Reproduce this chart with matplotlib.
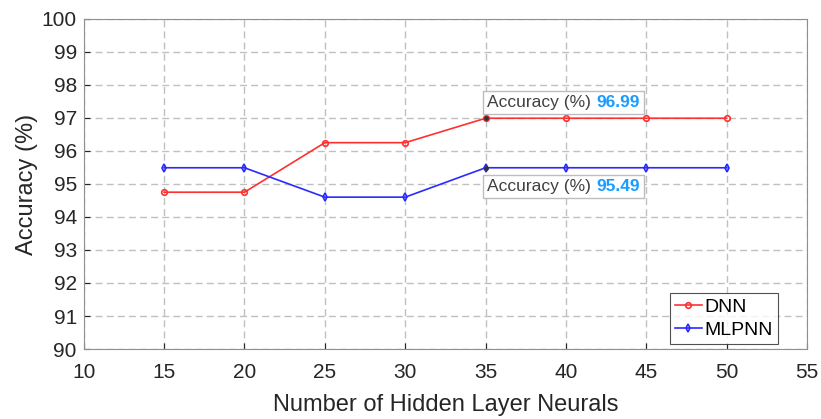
import matplotlib.pyplot as plt
from matplotlib.patches import Rectangle
from matplotlib.transforms import Bbox

neurons = [15, 20, 25, 30, 35, 40, 45, 50]
dnn_acc = [94.75, 94.75, 96.25, 96.25, 96.99, 96.99, 96.99, 96.99]
mlpnn_acc = [95.49, 95.49, 94.6, 94.6, 95.49, 95.49, 95.49, 95.49]

plt.rcParams['font.family'] = ['Liberation Sans', 'DejaVu Sans']

fig = plt.figure(figsize=(8.21, 4.19), dpi=100)
ax = fig.add_axes([0.102, 0.167, 0.881, 0.788])

ax.plot(neurons, dnn_acc, color='#ff3030', marker='o', markersize=4,
        markerfacecolor='none', markeredgewidth=1.2, linewidth=1.2, label='DNN')
ax.plot(neurons, mlpnn_acc, color='#2a2aff', marker='d', markersize=4,
        markerfacecolor='none', markeredgewidth=1.2, linewidth=1.2, label='MLPNN')

ax.set_xlim(10, 55)
ax.set_ylim(90, 100)
ax.set_xticks(range(10, 56, 5))
ax.set_yticks(range(90, 101, 1))
ax.grid(True, linestyle=(0, (5, 3)), color='#c0c0c0', linewidth=1)
ax.tick_params(labelsize=15, colors='#262626', direction='in', length=4)
ax.tick_params(axis='x', pad=10)
ax.tick_params(axis='y', pad=5)
for s in ax.spines.values():
    s.set_color('#909090')
ax.set_xlabel('Number of Hidden Layer Neurals', fontsize=17, color='#262626', labelpad=9)
ax.set_ylabel('Accuracy (%)', fontsize=17, color='#262626', labelpad=3)

leg = ax.legend(loc='lower right', bbox_to_anchor=(0.96, 0.015), fontsize=14, frameon=True,
                fancybox=False, edgecolor='#262626', handlelength=1.4, borderpad=0.25,
                labelspacing=0.3, borderaxespad=0, handletextpad=0.15)
leg.get_frame().set_linewidth(0.8)

# data tips
tips = []
for x, y, dy, va in [(neurons[4], dnn_acc[4], 6, 'bottom'), (neurons[4], mlpnn_acc[4], -8, 'top')]:
    ax.plot([x], [y], 'o', color='#333333', markersize=2.5, zorder=5)
    t1 = ax.annotate('Accuracy (%)', xy=(x, y), xytext=(1, dy), textcoords='offset points',
                     fontsize=12.5, color='#404040', va=va, ha='left', zorder=7)
    t2 = ax.annotate(f'{y:.2f}', xy=(1, 0), xycoords=t1, xytext=(4, 0), textcoords='offset points',
                     fontsize=12.5, color='#1a9cff', fontweight='bold', va='bottom', ha='left',
                     zorder=7)
    tips.append((t1, t2))

fig.canvas.draw()
r = fig.canvas.get_renderer()
for t1, t2 in tips:
    bb = Bbox.union([t1.get_window_extent(r), t2.get_window_extent(r)])
    pad = 4
    ax.add_artist(Rectangle((bb.x0 - pad, bb.y0 - pad), bb.width + 2 * pad, bb.height + 2 * pad,
                            transform=None, fc='white', ec='#bdbdbd', lw=1, zorder=6))

fig.savefig('out.png', dpi=100)
